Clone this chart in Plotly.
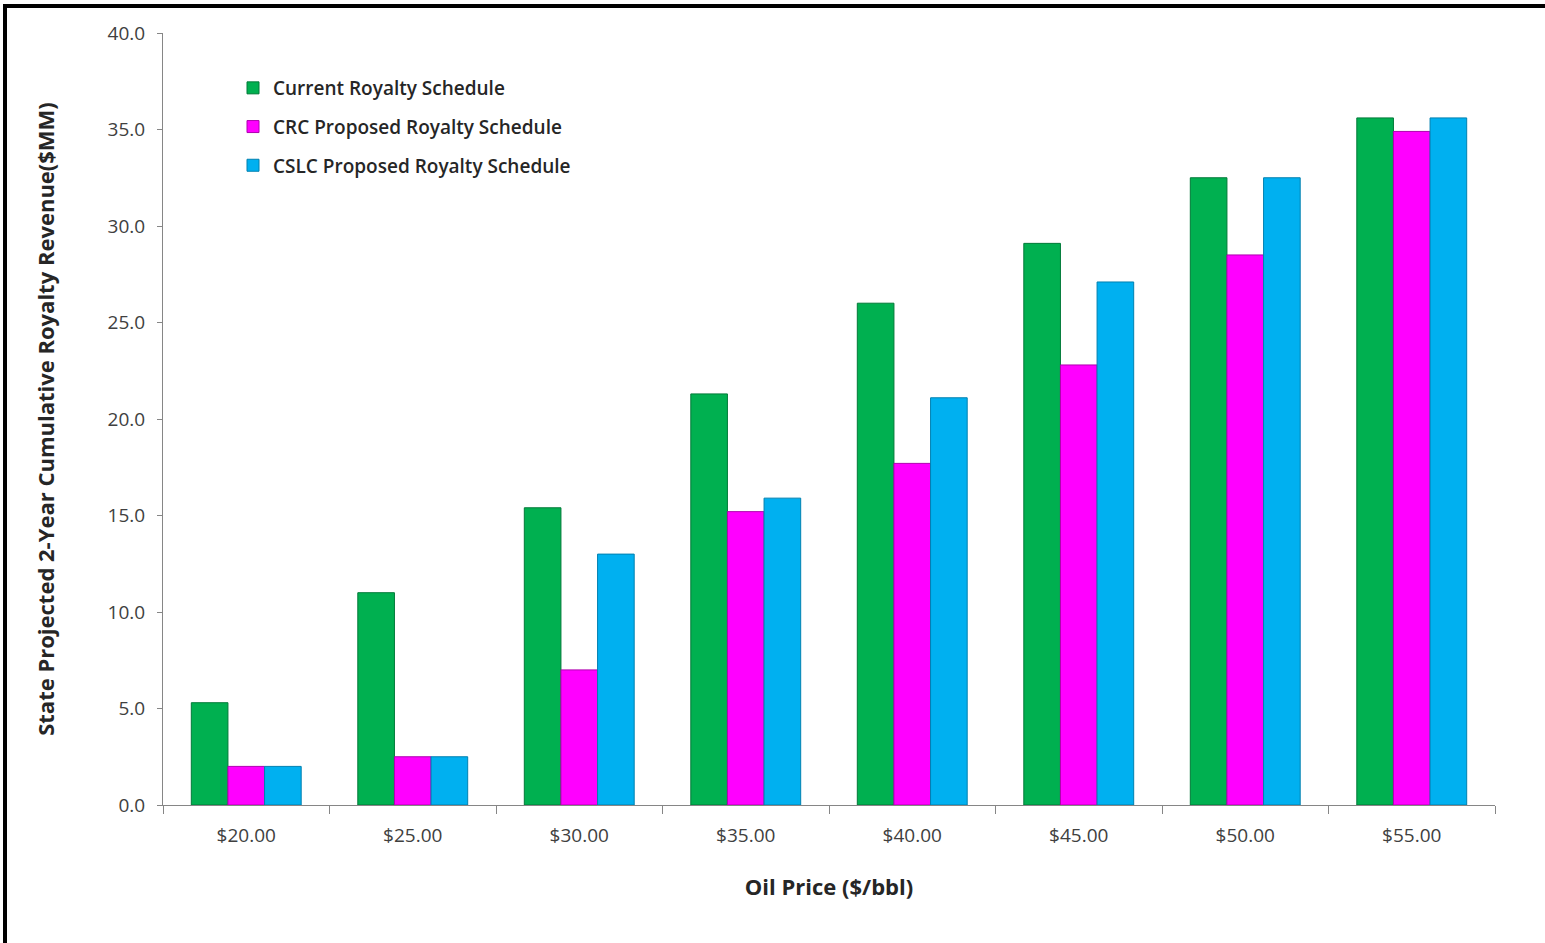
import plotly.graph_objects as go

categories = ["$20.00", "$25.00", "$30.00", "$35.00", "$40.00", "$45.00", "$50.00", "$55.00"]
current = [5.3, 11.0, 15.4, 21.3, 26.0, 29.1, 32.5, 35.6]
crc = [2.0, 2.5, 7.0, 15.2, 17.7, 22.8, 28.5, 34.9]
cslc = [2.0, 2.5, 13.0, 15.9, 21.1, 27.1, 32.5, 35.6]
series_names = ["Current Royalty Schedule", "CRC Proposed Royalty Schedule", "CSLC Proposed Royalty Schedule"]
y_ticks = [0, 5, 10, 15, 20, 25, 30, 35, 40]

colors = ["#00B050", "#FF00FF", "#00B0F0"]
edges = ["#007A38", "#B000B0", "#0080B0"]

W, H = 1545, 943
ML, MR, MT, MB = 163, 50, 33, 138
PW, PH = W - ML - MR, H - MT - MB

fig = go.Figure()
for i, (name, vals) in enumerate(zip(series_names, [current, crc, cslc])):
    fig.add_trace(go.Bar(
        x=categories, y=vals, name=name,
        marker=dict(color=colors[i], line=dict(color=edges[i], width=1)),
        legendgroup=f"g{i}",
    ))

font_family = "'Open Sans', Lato, sans-serif"

def px_to_paper_x(px):
    return (px - ML) / PW

def px_to_paper_y(py):
    return 1 - (py - MT) / PH

fig.update_layout(
    width=W, height=H,
    margin=dict(l=ML, r=MR, t=MT, b=MB),
    paper_bgcolor="white", plot_bgcolor="white",
    barmode="group", bargap=0.34, bargroupgap=0,
    font=dict(family=font_family, color="#404040"),
    showlegend=True,
    legend=dict(
        x=px_to_paper_x(233), y=px_to_paper_y(69), xanchor="left", yanchor="top",
        font=dict(size=19, color="#262626", family=font_family, weight=600),
        bgcolor="rgba(0,0,0,0)", tracegroupgap=11, itemwidth=30,
    ),
    xaxis=dict(
        showline=True, linecolor="#868686", linewidth=1,
        ticks="outside", tickson="boundaries", ticklen=8, tickcolor="#868686",
        tickfont=dict(size=19, color="#404040"), ticklabelstandoff=13,
        title=dict(text="<b>Oil Price ($/bbl)</b>", font=dict(size=22, color="#262626"), standoff=32),
        showgrid=False,
    ),
    yaxis=dict(
        range=[0, 40], tickvals=y_ticks, tickformat=".1f",
        showline=True, linecolor="#868686", linewidth=1,
        ticks="outside", ticklen=5, tickcolor="#868686",
        tickfont=dict(size=19, color="#404040"), ticklabelstandoff=8,
        title=dict(text="<b>State Projected 2-Year Cumulative Royalty Revenue($MM)</b>",
                   font=dict(size=22, color="#262626"), standoff=46),
        showgrid=False, zeroline=False,
    ),
    shapes=[
        dict(type="line", xref="paper", yref="paper",
             x0=px_to_paper_x(3), x1=px_to_paper_x(1545), y0=px_to_paper_y(6), y1=px_to_paper_y(6),
             line=dict(color="black", width=4)),
        dict(type="line", xref="paper", yref="paper",
             x0=px_to_paper_x(5), x1=px_to_paper_x(5), y0=px_to_paper_y(4), y1=px_to_paper_y(943),
             line=dict(color="black", width=4)),
    ],
)

fig.write_html("out.html")
